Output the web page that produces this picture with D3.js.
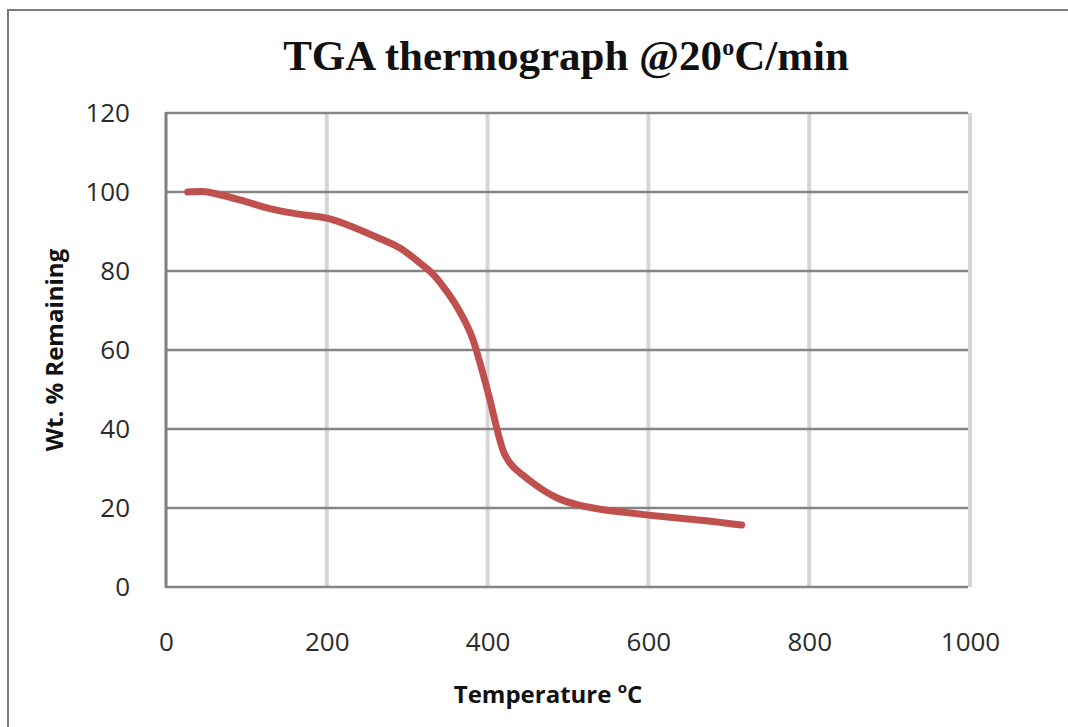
<!DOCTYPE html>
<html lang="en">
<head>
    <meta charset="UTF-8">
    <title>TGA thermograph</title>
    <script src="https://cdn.jsdelivr.net/npm/d3@7"></script>
    <style>
        body { margin: 0; background: #fff; }
    </style>
</head>
<body>
<script>
    // weight loss curve
    var temps = [27, 45, 67, 100, 129, 165, 204, 233, 265, 291, 316, 330, 345, 362, 382, 394, 403, 412, 419, 425, 432, 444, 456, 470, 486, 510, 540, 570, 600, 640, 680, 716];
    var weights = [100, 100.1, 99.3, 97.5, 95.8, 94.4, 93.2, 91.1, 88.3, 85.8, 82, 79.6, 76, 70.9, 62.5, 54.2, 47.3, 39.7, 34.7, 32.2, 30.4, 28.3, 26.4, 24.4, 22.6, 20.9, 19.7, 18.9, 18.2, 17.4, 16.6, 15.7];
    var xTicks = [0, 200, 400, 600, 800, 1000];
    var yTicks = [0, 20, 40, 60, 80, 100, 120];

    var w = 1068, h = 727;
    var plotLeft = 166, plotRight = 970, plotTop = 113, plotBottom = 587;

    var svg = d3.select("body").append("svg")
        .attr("width", w)
        .attr("height", h);

    // outer frame (only top and left show)
    svg.append("path")
        .attr("d", "M8," + h + "V10H" + w)
        .attr("fill", "none")
        .attr("stroke", "#7a7a7a")
        .attr("stroke-width", 2);

    var x = d3.scaleLinear().domain([0, 1000]).range([plotLeft, plotRight]);
    var y = d3.scaleLinear().domain([0, 120]).range([plotBottom, plotTop]);

    // vertical grid, light
    svg.append("g")
        .selectAll("line")
        .data(xTicks.slice(1))
        .enter()
        .append("line")
        .attr("x1", function (d) { return x(d); })
        .attr("x2", function (d) { return x(d); })
        .attr("y1", plotTop)
        .attr("y2", plotBottom)
        .attr("stroke", "#d6d6d6")
        .attr("stroke-width", 4);

    // horizontal grid, darker
    svg.append("g")
        .selectAll("line")
        .data(yTicks)
        .enter()
        .append("line")
        .attr("x1", plotLeft)
        .attr("x2", plotRight - 2)
        .attr("y1", function (d) { return y(d); })
        .attr("y2", function (d) { return y(d); })
        .attr("stroke", "#858585")
        .attr("stroke-width", 2.5);

    // left axis line
    svg.append("line")
        .attr("x1", plotLeft).attr("x2", plotLeft)
        .attr("y1", plotTop - 1).attr("y2", plotBottom + 1)
        .attr("stroke", "#7f7f7f")
        .attr("stroke-width", 3);

    // tick labels through d3 axes, lines hidden
    var yAxis = svg.append("g")
        .attr("transform", "translate(" + (plotLeft - 36) + ",0)")
        .call(d3.axisLeft(y).tickValues(yTicks).tickFormat(d3.format("d")).tickSize(0).tickPadding(0));
    var xAxis = svg.append("g")
        .attr("transform", "translate(0," + (plotBottom + 46) + ")")
        .call(d3.axisBottom(x).tickValues(xTicks).tickFormat(d3.format("d")).tickSize(0).tickPadding(0));
    [xAxis, yAxis].forEach(function (a) {
        a.select(".domain").remove();
        a.selectAll("text")
            .attr("font-family", "'Open Sans', sans-serif")
            .attr("font-size", "26px")
            .attr("fill", "#2b2b2b");
    });

    // curve
    var pts = temps.map(function (t, i) { return [t, weights[i]]; });
    svg.append("path")
        .datum(pts)
        .attr("d", d3.line()
            .x(function (d) { return x(d[0]); })
            .y(function (d) { return y(d[1]); })
            .curve(d3.curveMonotoneX))
        .attr("fill", "none")
        .attr("stroke", "#c0504d")
        .attr("stroke-width", 7)
        .attr("stroke-linecap", "round")
        .attr("stroke-linejoin", "round");

    // title
    var title = svg.append("text")
        .attr("x", 566)
        .attr("y", 70)
        .attr("text-anchor", "middle")
        .attr("font-family", "'Liberation Serif', serif")
        .attr("font-weight", "bold")
        .attr("font-size", "43px")
        .attr("fill", "#111");
    title.append("tspan").text("TGA thermograph  @20");
    title.append("tspan").attr("font-size", "24px").attr("dy", -15).text("o");
    title.append("tspan").attr("dy", 15).text("C/min");

    // axis titles
    var xt = svg.append("text")
        .attr("x", 548)
        .attr("y", 703)
        .attr("text-anchor", "middle")
        .attr("font-family", "'Open Sans', sans-serif")
        .attr("font-weight", "bold")
        .attr("font-size", "24px")
        .attr("fill", "#111");
    xt.append("tspan").text("Temperature ");
    xt.append("tspan").attr("font-size", "15px").attr("dy", -10).text("o");
    xt.append("tspan").attr("dy", 10).text("C");

    svg.append("text")
        .attr("transform", "translate(63,350) rotate(-90)")
        .attr("text-anchor", "middle")
        .attr("font-family", "'Open Sans', sans-serif")
        .attr("font-weight", "bold")
        .attr("font-size", "24px")
        .attr("fill", "#111")
        .text("Wt. % Remaining");
</script>
</body>
</html>
